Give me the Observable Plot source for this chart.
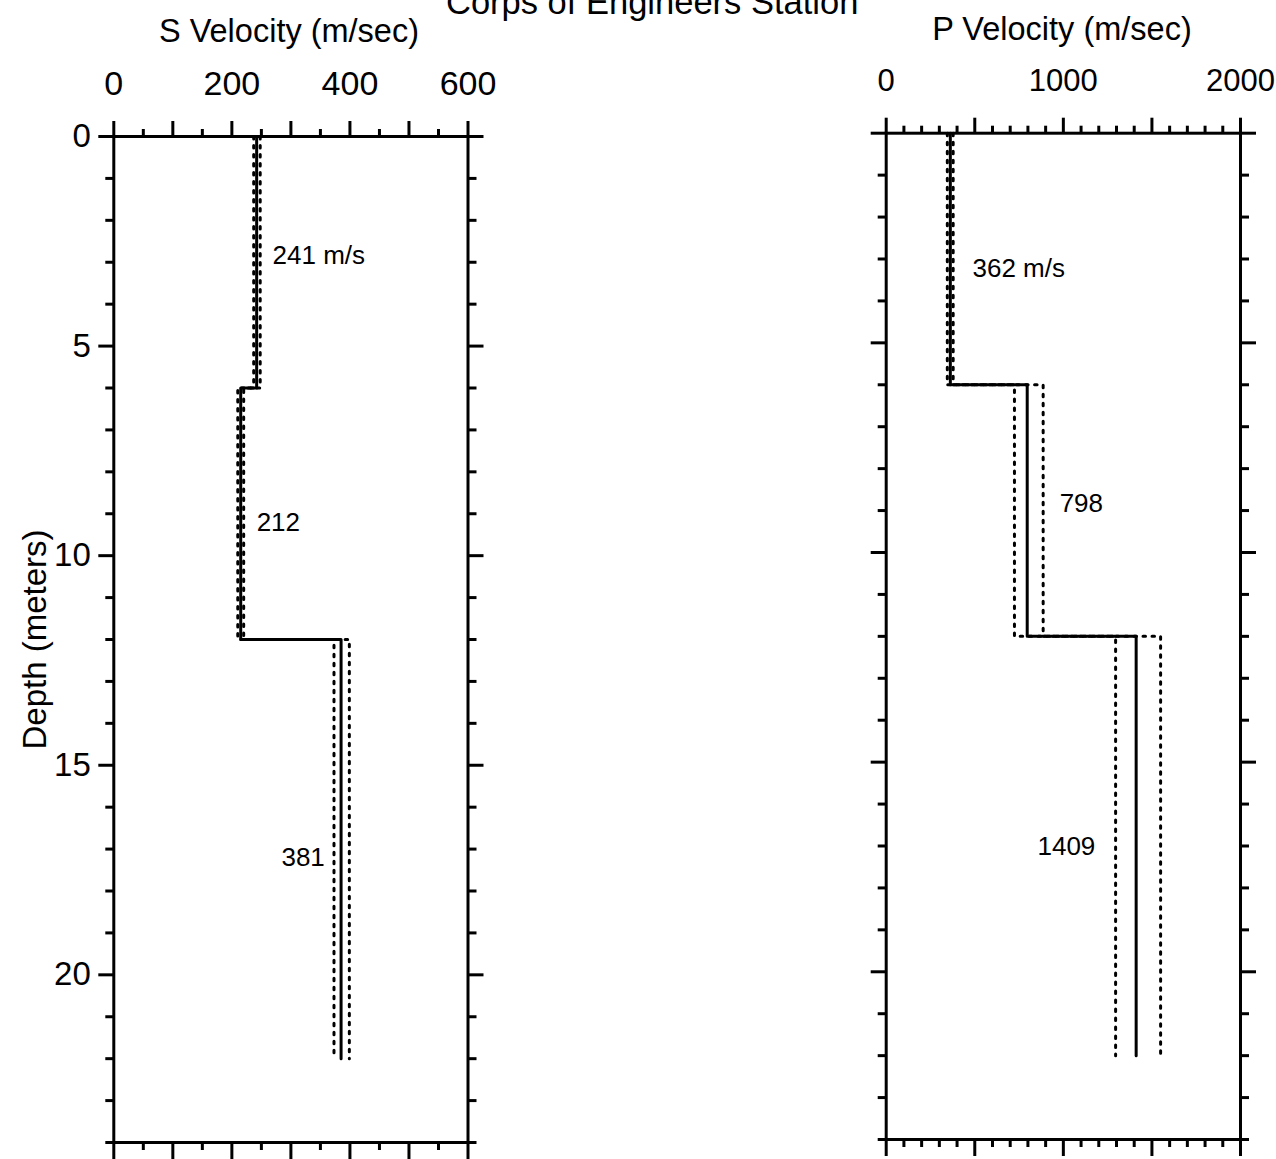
<!DOCTYPE html>
<html>
<head>
<meta charset="utf-8">
<script src="https://cdn.jsdelivr.net/npm/d3@7"></script>
<script src="https://cdn.jsdelivr.net/npm/@observablehq/plot@0.6"></script>
<style>
  html, body { margin: 0; padding: 0; background: #fff; }
  #page { position: relative; width: 1276px; height: 1159px; overflow: hidden; background: #fff;
          font-family: "Liberation Sans", Arial, Helvetica, sans-serif; color: #000; }
  .ttl { position: absolute; font-size: 32.5px; line-height: 32px; text-align: center; white-space: nowrap; }
  .panel { position: absolute; top: 0; }
</style>
</head>
<body>
<div id="page">
  <div class="ttl" style="left:446px; width:400px; top:-14px; font-size:34.5px;">Corps of Engineers Station</div>
  <div class="ttl" style="left:89px; width:400px; top:15px;">S Velocity (m/sec)</div>
  <div class="ttl" style="left:862px; width:400px; top:13px;">P Velocity (m/sec)</div>
  <div class="panel" id="sPanel" style="left:0px;"></div>
  <div class="panel" id="pPanel" style="left:640px;"></div>
</div>
<script>
// ---- data ----
const layerTop = [0, 6, 12];          // depth (m) of top of each layer
const layerBottom = [6, 12, 22];      // depth (m) of bottom of each layer

const sVel  = [242, 215, 385];        // S velocity (m/s), best estimate
const sLow  = [237, 210, 373];        // lower bound
const sHigh = [248, 220, 399];        // upper bound
const sLabels = ["241 m/s", "212", "381"];
const sLabelX = [269, 242, 284];
const sLabelDepth = [2.84, 9.21, 17.2];

const pVel  = [362, 796, 1411];
const pLow  = [345, 724, 1295];
const pHigh = [378, 886, 1549];
const pLabels = ["362 m/s", "798", "1409"];
const pLabelX = [487, 979, 854];
const pLabelDepth = [3.23, 8.84, 17.02];

const depthMajor = [0, 5, 10, 15, 20];
const depthMinor = d3.range(0, 25).filter(d => d % 5 !== 0);

const sMajor = [0, 100, 200, 300, 400, 500, 600];
const sMinor = [50, 150, 250, 350, 450, 550];
const sTickLabels = [0, 200, 400, 600];

const pMajor = [0, 500, 1000, 1500, 2000];
const pMinor = d3.range(100, 2000, 100).filter(d => d % 500 !== 0);
const pTickLabels = [0, 1000, 2000];

// ---- helpers ----
function stepPoints(vals) {
  const pts = [];
  vals.forEach((v, i) => { pts.push({v, d: layerTop[i]}); pts.push({v, d: layerBottom[i]}); });
  return pts;
}
const font = '"Liberation Sans", Arial, Helvetica, sans-serif';

function panel({width, marginLeft, marginRight, marginTop, marginBottom, xDomain, major, minor, tickLabels,
                vel, low, high, labels, labelX, labelDepth, depthLabels, topFont}) {
  const dotted = {x: "v", y: "d", stroke: "#000", strokeWidth: 3, strokeDasharray: "2.5,6.5", strokeLinecap: "round"};
  const marks = [
    Plot.line(stepPoints(low), dotted),
    Plot.line(stepPoints(high), dotted),
    Plot.line(stepPoints(vel), {x: "v", y: "d", stroke: "#000", strokeWidth: 3}),
    Plot.text(labels.map((t, i) => ({t, x: labelX[i], d: labelDepth[i]})),
      {x: "x", y: "d", text: "t", textAnchor: "start", fontSize: 26, fill: "#000"}),
    Plot.frame({stroke: "#000", strokeWidth: 3}),
    // top axis
    Plot.axisX({anchor: "top", ticks: major, tickSize: 16, tickPadding: 26, strokeWidth: 3, label: null,
      tickFormat: d => tickLabels.includes(d) ? String(d) : "", fontSize: topFont}),
    Plot.axisX({anchor: "top", ticks: minor, tickSize: 8, strokeWidth: 3, label: null, tickFormat: () => ""}),
    // bottom axis
    Plot.axisX({anchor: "bottom", ticks: major, tickSize: 17, strokeWidth: 3, label: null, tickFormat: () => ""}),
    Plot.axisX({anchor: "bottom", ticks: minor, tickSize: 8, strokeWidth: 3, label: null, tickFormat: () => ""}),
    // left axis
    Plot.axisY({anchor: "left", ticks: depthMajor, tickSize: 15, tickPadding: 8, strokeWidth: 3, label: null,
      tickFormat: d => depthLabels ? String(d) : "", fontSize: 33}),
    Plot.axisY({anchor: "left", ticks: depthMinor, tickSize: 8, strokeWidth: 3, label: null, tickFormat: () => ""}),
    // right axis
    Plot.axisY({anchor: "right", ticks: depthMajor, tickSize: 15, strokeWidth: 3, label: null, tickFormat: () => ""}),
    Plot.axisY({anchor: "right", ticks: depthMinor, tickSize: 8, strokeWidth: 3, label: null, tickFormat: () => ""})
  ];
  if (depthLabels) {
    marks.push(Plot.text(["Depth (meters)"], {frameAnchor: "left", text: d => d, rotate: -90, dx: -78,
      textAnchor: "middle", lineAnchor: "middle", fontSize: 33, fill: "#000"}));
  }
  return Plot.plot({
    width, height: 1159, marginLeft, marginRight, marginTop, marginBottom,
    x: {domain: xDomain},
    y: {domain: [0, 24], reverse: true},
    style: {fontFamily: font, fontSize: "32px", color: "#000", background: "transparent", overflow: "visible"},
    marks
  });
}

document.getElementById("sPanel").appendChild(panel({
  width: 600, marginLeft: 113.3, marginRight: 600 - 467.5, marginTop: 136, marginBottom: 17,
  xDomain: [0, 600], major: sMajor, minor: sMinor, tickLabels: sTickLabels,
  vel: sVel, low: sLow, high: sHigh, labels: sLabels, labelX: sLabelX, labelDepth: sLabelDepth, depthLabels: true,
  topFont: 34
}));
document.getElementById("pPanel").appendChild(panel({
  width: 636, marginLeft: 885.7 - 640, marginRight: 636 - (1240 - 640), marginTop: 132.7, marginBottom: 20,
  xDomain: [0, 2000], major: pMajor, minor: pMinor, tickLabels: pTickLabels,
  vel: pVel, low: pLow, high: pHigh, labels: pLabels, labelX: pLabelX, labelDepth: pLabelDepth, depthLabels: false,
  topFont: 31
}));
</script>
</body>
</html>
